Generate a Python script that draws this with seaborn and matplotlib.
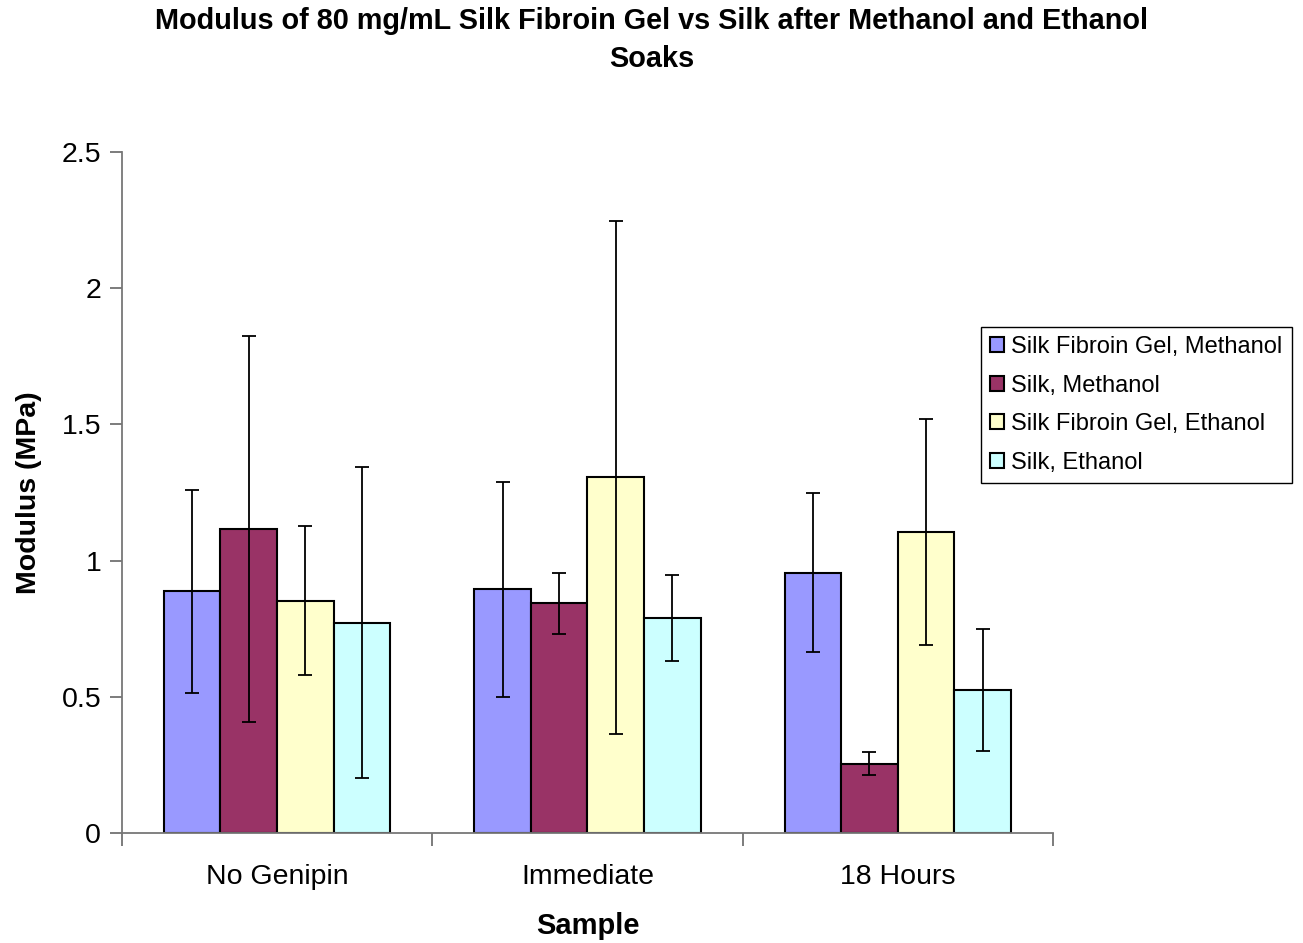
import pandas as pd
import numpy as np
import matplotlib
matplotlib.use("Agg")
import matplotlib.pyplot as plt
from matplotlib.ticker import FuncFormatter, FixedLocator
import seaborn as sns

# data
samples = ["No Genipin", "Immediate", "18 Hours"]
series = ["Silk Fibroin Gel, Methanol", "Silk, Methanol",
          "Silk Fibroin Gel, Ethanol", "Silk, Ethanol"]
gel_methanol = [0.887, 0.895, 0.956]
silk_methanol = [1.116, 0.843, 0.255]
gel_ethanol = [0.853, 1.306, 1.104]
silk_ethanol = [0.772, 0.788, 0.525]
err_gel_methanol = [0.373, 0.394, 0.293]
err_silk_methanol = [0.707, 0.112, 0.042]
err_gel_ethanol = [0.273, 0.941, 0.415]
err_silk_ethanol = [0.570, 0.158, 0.223]

colors = ["#9999FF", "#993366", "#FFFFCC", "#CCFFFF"]

values = [gel_methanol, silk_methanol, gel_ethanol, silk_ethanol]
errors = [err_gel_methanol, err_silk_methanol, err_gel_ethanol, err_silk_ethanol]

rows = []
for name, vals, errs in zip(series, values, errors):
    for s, v, e in zip(samples, vals, errs):
        rows.append({"Sample": s, "Modulus": v, "Series": name, "Err": e})
df = pd.DataFrame(rows)

sns.set_style("white")
plt.rcParams["font.family"] = ["Liberation Sans", "DejaVu Sans"]
plt.rcParams["text.color"] = "black"
plt.rcParams["axes.labelcolor"] = "black"
plt.rcParams["xtick.labelcolor"] = "black"
plt.rcParams["ytick.labelcolor"] = "black"

fig = plt.figure(figsize=(13.03, 9.43), dpi=100)
ax = fig.add_axes([0.0936, 0.1166, 0.7145, 0.7222])

sns.barplot(data=df, x="Sample", y="Modulus", hue="Series", order=samples,
            hue_order=series, palette=colors, errorbar=None, width=0.73,
            gap=0, edgecolor="black", linewidth=1.5, saturation=1, ax=ax)

# error bars on top of each bar
for container, errs in zip(ax.containers, errors):
    xs = [p.get_x() + p.get_width() / 2 for p in container]
    ys = [p.get_height() for p in container]
    ax.errorbar(xs, ys, yerr=errs, fmt="none", ecolor="black",
                elinewidth=1.3, capsize=5, capthick=1.3, zorder=5)

ax.set_xlim(-0.5, 2.5)
ax.set_ylim(0, 2.5)
ax.set_yticks([0, 0.5, 1, 1.5, 2, 2.5])
ax.yaxis.set_major_formatter(FuncFormatter(lambda v, p: "%g" % v))
ax.xaxis.set_minor_locator(FixedLocator([-0.5, 0.5, 1.5, 2.5]))
ax.tick_params(axis="x", which="major", length=0, labelsize=20.5, pad=22)
ax.tick_params(axis="x", which="minor", length=9, width=1.2, color="#666666",
               direction="out", bottom=True)
ax.tick_params(axis="y", length=9, width=1.2, color="#666666",
               direction="out", left=True, labelsize=20.5, pad=6)

sns.despine(ax=ax)
for sp in ["left", "bottom"]:
    ax.spines[sp].set_color("#777777")
    ax.spines[sp].set_linewidth(1.3)

ax.set_xlabel("Sample", fontsize=21, fontweight="bold", labelpad=16)
ax.set_ylabel("Modulus (MPa)", fontsize=20.5, fontweight="bold", labelpad=14)
fig.suptitle("Modulus of 80 mg/mL Silk Fibroin Gel vs Silk after Methanol and Ethanol\nSoaks",
             x=0.5, y=0.993, fontsize=20.8, fontweight="bold", linespacing=1.45)

leg = ax.legend(loc="upper left", bbox_to_anchor=(0.753, 0.653),
                bbox_transform=fig.transFigure, fontsize=17, frameon=True,
                fancybox=False, edgecolor="black", framealpha=1,
                handlelength=0.6, handleheight=0.6, handletextpad=0.3,
                labelspacing=0.7, borderpad=0.38, borderaxespad=0)
leg.get_frame().set_linewidth(1.0)
for h in leg.legend_handles:
    h.set_linewidth(1.5)

fig.savefig("out.png", dpi=100)
